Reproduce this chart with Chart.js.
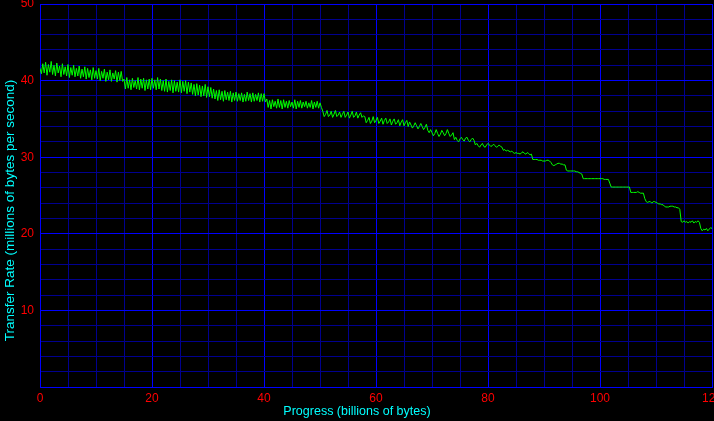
<!DOCTYPE html>
<html>
<head>
<meta charset="utf-8">
<script src="https://cdn.jsdelivr.net/npm/chart.js@4/dist/chart.umd.min.js"></script>
<style>
  html, body { margin: 0; padding: 0; background: #000; }
  #wrap { width: 714px; height: 421px; }
</style>
</head>
<body>
<div id="wrap"><canvas id="chart"></canvas></div>
<script>
'use strict';

// transfer rate samples, one every 0.25 billion bytes
var STEP = 0.25;
var rate0to20 = [
	41.6, 40.9, 42.2, 41.0, 42.4, 40.7, 42.1, 41.1, 42.5, 40.8,
	42.0, 40.6, 42.3, 41.0, 41.9, 40.5, 42.2, 40.8, 41.8, 40.6,
	42.1, 40.4, 41.7, 40.7, 42.0, 40.5, 41.6, 40.6, 41.9, 40.3,
	41.5, 40.5, 41.8, 40.2, 41.6, 40.4, 41.4, 40.1, 41.7, 40.3,
	41.3, 40.2, 41.6, 40.0, 41.2, 40.3, 41.5, 39.9, 41.1, 40.1,
	41.4, 39.9, 41.0, 40.2, 41.3, 39.8, 41.1, 40.0, 41.2, 39.9,
	40.2, 38.9, 40.4, 39.0, 40.1, 38.8, 40.3, 39.1, 40.0, 38.9,
	40.4, 38.8, 40.2, 39.0, 40.3, 38.7, 40.1, 38.9, 40.2, 38.8
];
var rate20to40 = [
	40.3, 39.0, 40.1, 38.8, 40.4, 38.9, 40.2, 38.7,
	40.0, 38.6, 40.2, 38.5, 39.9, 38.7, 40.1, 38.4, 40.0, 38.6,
	39.8, 38.5, 40.1, 38.4, 39.9, 38.6, 40.0, 38.3, 39.8, 38.5,
	39.7, 38.2, 39.5, 38.0, 39.6, 38.1, 39.4, 37.9,
	39.3, 38.0, 39.5, 37.8, 39.2, 37.9, 39.1, 37.7,
	38.9, 37.6, 38.7, 37.4, 38.8, 37.5, 38.6, 37.3,
	38.7, 37.5, 38.5, 37.4, 38.6, 37.2, 38.4, 37.4,
	38.5, 37.3, 38.3, 37.4, 38.4, 37.2, 38.2, 37.3, 38.5, 37.4,
	38.3, 37.2, 38.4, 37.3, 38.2, 37.4, 38.4, 37.2, 38.3, 37.3
];
var rate40to60 = [
	38.3, 37.2,
	37.6, 36.5, 37.4, 36.3, 37.5, 36.6, 37.3, 36.4, 37.6, 36.5,
	37.4, 36.3, 37.5, 36.5, 37.3, 36.4, 37.4, 36.6, 37.2, 36.4,
	37.5, 36.3, 37.3, 36.5, 37.4, 36.4, 37.2, 36.6, 37.3, 36.4,
	37.1, 36.5, 37.4, 36.3, 37.2, 36.5, 37.3, 36.4, 37.1, 36.5,
	36.0, 35.3, 35.6, 36.1, 35.3, 35.5, 36.0, 35.2, 35.6, 36.1,
	35.3, 35.5, 35.9, 35.2, 35.6, 36.0, 35.2, 35.5, 35.9, 35.1,
	35.5, 36.0, 35.2, 35.4, 35.9, 35.1, 35.5, 35.8, 35.2, 35.4,
	35.3, 34.5, 34.8, 35.2, 34.4, 34.7, 35.3, 34.5
];
var rate60to80 = [
	34.8, 35.2, 34.4, 34.7, 35.1, 34.3, 34.8, 35.1, 34.4, 34.6,
	35.0, 34.2, 34.7, 35.0, 34.3, 34.5, 34.9, 34.1, 34.6, 34.9,
	34.1, 34.5, 34.8, 34.0,
	34.6, 34.2, 33.8, 34.1, 34.5, 34.1, 33.7, 34.0, 34.4, 34.0,
	33.6, 33.9, 34.3, 33.5,
	33.2, 33.6, 33.2, 32.8, 33.1, 33.6, 33.1, 32.7, 33.0, 33.5,
	33.2, 32.8, 33.1, 33.6, 33.1, 32.7, 32.9, 33.2,
	32.3, 32.6, 32.2, 32.0, 32.4, 32.6, 32.3, 32.1, 32.5, 32.6,
	32.2, 32.0, 32.3, 32.5, 32.2,
	31.6, 31.8, 31.5, 31.3, 31.6, 31.8, 31.4, 31.3, 31.6
];
var rate80to100 = [
	31.8, 31.6, 31.4, 31.5, 31.7, 31.5, 31.3, 31.4, 31.6, 31.4, 31.3,
	30.9, 31.0, 30.8, 30.9, 30.8, 30.7, 30.8, 30.6, 30.5, 30.6,
	30.5, 30.5, 30.4, 30.6, 30.7, 30.5, 30.4, 30.6, 30.5, 30.3, 30.4,
	29.7, 29.7, 29.7, 29.7, 29.6, 29.6, 29.6, 29.5, 29.5, 29.5,
	29.6, 29.6, 29.5, 29.3,
	29.0, 28.9, 29.0, 29.1, 29.2, 29.2, 29.1, 29.1, 29.0, 29.0,
	28.3, 28.2, 28.2, 28.2, 28.2, 28.2, 28.2, 28.1, 28.1, 28.0, 27.9, 27.8,
	27.2, 27.2, 27.2, 27.2, 27.2, 27.2, 27.2, 27.2, 27.2, 27.2, 27.2, 27.2
];
var rate100to120 = [
	27.2, 27.2, 27.2, 27.1, 27.1, 27.1, 27.1, 26.6,
	26.1, 26.1, 26.1, 26.1, 26.1, 26.1, 26.1, 26.1, 26.1, 26.1,
	26.1, 26.1, 26.1, 26.1,
	25.4, 25.4, 25.4, 25.4, 25.4, 25.5, 25.4, 25.3, 25.3, 25.3, 24.6,
	24.2, 24.1, 24.2, 24.2, 24.0, 24.2, 24.2, 24.1, 24.0, 23.9,
	23.9, 23.8, 23.8, 23.6,
	23.5, 23.5, 23.5, 23.6, 23.6, 23.6, 23.5, 23.5, 23.4, 23.4, 23.2, 21.6,
	21.5, 21.7, 21.5, 21.6, 21.4, 21.6, 21.5, 21.7, 21.4, 21.6, 21.5, 21.7, 21.5,
	20.7, 20.4, 20.6, 20.5, 20.7, 20.4, 20.6, 20.8,
	20.7
];

var rates = [].concat(rate0to20, rate20to40, rate40to60, rate60to80, rate80to100, rate100to120);
var points = rates.map(function(v, i) {
	return { x: i * STEP, y: v };
});

var FONT = 'Liberation Sans, Arial, sans-serif';
var MAJOR = '#0000ff';
var MINOR = '#000090';

// axis titles are centred on the canvas, not on the plot
var axisTitles = {
	id: 'axisTitles',
	afterDraw: function(chart) {
		var c = chart.ctx;
		c.save();
		c.fillStyle = '#00ffff';
		c.textAlign = 'center';
		c.textBaseline = 'middle';
		c.font = '12.5px ' + FONT;
		c.fillText('Progress (billions of bytes)', chart.width / 2, 412);
		c.translate(10, chart.height / 2);
		c.rotate(-Math.PI / 2);
		c.font = '13.5px ' + FONT;
		c.fillText('Transfer Rate (millions of bytes per second)', 0, 0);
		c.restore();
	}
};

// let the edge labels hang outside the plot instead of shrinking it
var noLabelPadding = function(scale) {
	scale.paddingLeft = 0;
	scale.paddingRight = 0;
	scale.paddingTop = 0;
	scale.paddingBottom = 0;
};

var ctx = document.getElementById('chart').getContext('2d');
var chart = new Chart(ctx, {
	type: 'line',
	data: {
		datasets: [{
			data: points,
			borderColor: '#00ff00',
			borderWidth: 1,
			pointRadius: 0,
			tension: 0,
			fill: false
		}]
	},
	options: {
		responsive: true,
		maintainAspectRatio: false,
		animation: false,
		layout: {
			autoPadding: false,
			padding: { top: 4, right: 2, left: 0, bottom: 0 }
		},
		plugins: {
			legend: { display: false },
			tooltip: { enabled: false }
		},
		scales: {
			x: {
				type: 'linear',
				min: 0,
				max: 120,
				afterFit: function(scale) { scale.height = 34; noLabelPadding(scale); },
				border: { color: MAJOR },
				grid: {
					drawTicks: false,
					color: function(c) { return c.tick && c.tick.value % 20 === 0 ? MAJOR : MINOR; }
				},
				ticks: {
					stepSize: 5,
					autoSkip: false,
					maxRotation: 0,
					padding: 4,
					color: '#ff0000',
					font: { size: 12, family: FONT },
					callback: function(v) { return v % 20 === 0 ? v : ''; }
				}
			},
			y: {
				min: 0,
				max: 50,
				afterFit: function(scale) { scale.width = 40; noLabelPadding(scale); },
				border: { color: MAJOR },
				grid: {
					drawTicks: false,
					color: function(c) { return c.tick && c.tick.value % 10 === 0 ? MAJOR : MINOR; }
				},
				ticks: {
					stepSize: 2,
					autoSkip: false,
					padding: 6,
					color: '#ff0000',
					font: { size: 12, family: FONT },
					callback: function(v) { return (v % 10 === 0 && v !== 0) ? v : ''; }
				}
			}
		}
	},
	plugins: [axisTitles]
});
</script>
</body>
</html>
